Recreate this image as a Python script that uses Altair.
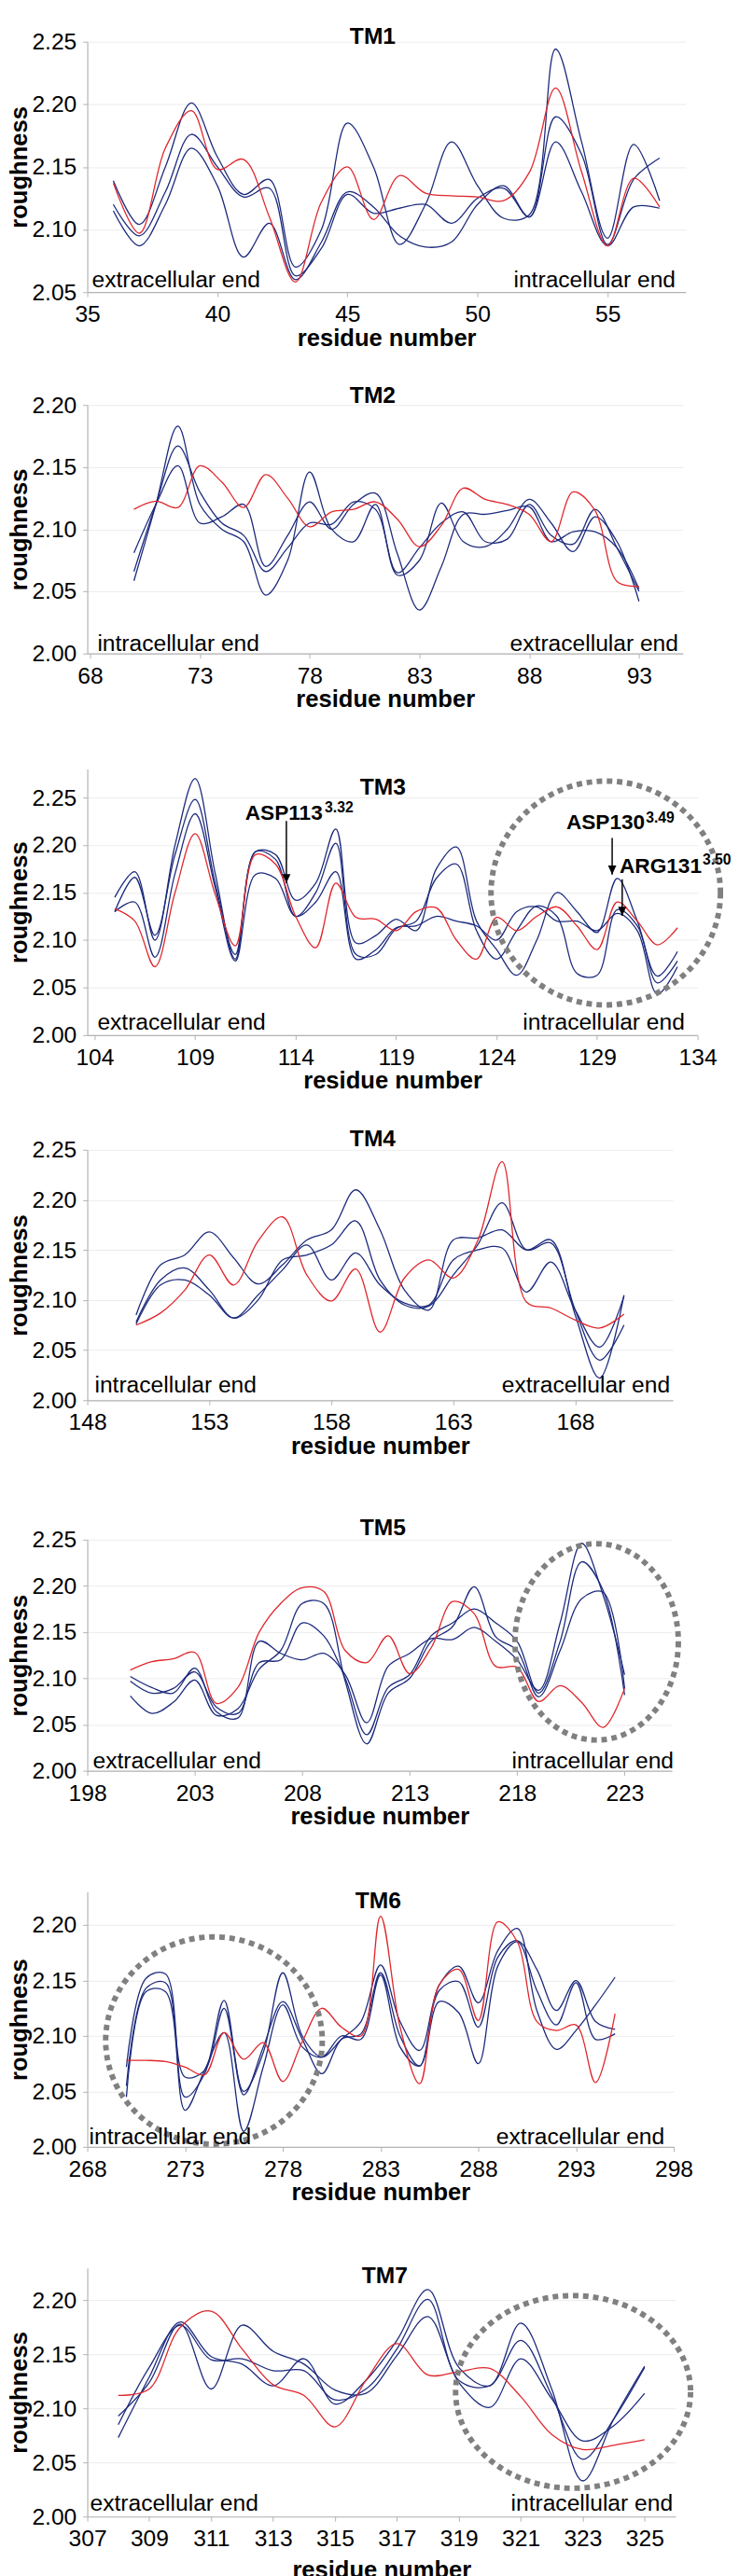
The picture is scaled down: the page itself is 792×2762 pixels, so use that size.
import altair as alt
import pandas as pd

FONT = "Liberation Sans"
RED = "#e0262c"
BLUE = "#1c2a7c"
GRAY = "#808080"

# ---------------- data ----------------
tm1_res = list(range(36, 58))
tm1_red = [2.137, 2.097, 2.165, 2.195, 2.148, 2.156, 2.11, 2.058, 2.122, 2.15, 2.108, 2.143, 2.129, 2.127, 2.126, 2.123, 2.146, 2.213, 2.146, 2.087, 2.141, 2.118]
tm1_b1 = [2.139, 2.104, 2.15, 2.201, 2.158, 2.128, 2.140, 2.070, 2.10, 2.185, 2.15, 2.088, 2.12, 2.17, 2.135, 2.109, 2.112, 2.244, 2.17, 2.093, 2.168, 2.123]
tm1_b2 = [2.12, 2.095, 2.13, 2.176, 2.15, 2.126, 2.133, 2.063, 2.085, 2.128, 2.113, 2.117, 2.12, 2.105, 2.125, 2.133, 2.11, 2.19, 2.16, 2.088, 2.14, 2.157]
tm1_b3 = [2.115, 2.087, 2.12, 2.165, 2.135, 2.078, 2.105, 2.06, 2.09, 2.13, 2.118, 2.095, 2.086, 2.09, 2.12, 2.135, 2.11, 2.17, 2.13, 2.087, 2.118, 2.117]

tm2_res = list(range(70, 94))
tm2_red = [2.116, 2.1225, 2.1175, 2.151, 2.138, 2.1175, 2.144, 2.125, 2.102, 2.114, 2.116, 2.122, 2.108, 2.086, 2.103, 2.133, 2.124, 2.12, 2.112, 2.09, 2.13, 2.115, 2.058, 2.054]
tm2_b1 = [2.0585, 2.12, 2.183, 2.12, 2.10, 2.09, 2.047, 2.075, 2.146, 2.10, 2.09, 2.12, 2.063, 2.075, 2.121, 2.09, 2.086, 2.10, 2.124, 2.105, 2.082, 2.11, 2.09, 2.042]
tm2_b2 = [2.066, 2.12, 2.167, 2.13, 2.105, 2.095, 2.066, 2.085, 2.105, 2.104, 2.122, 2.116, 2.065, 2.085, 2.105, 2.114, 2.09, 2.092, 2.12, 2.095, 2.088, 2.116, 2.085, 2.05]
tm2_b3 = [2.081, 2.12, 2.151, 2.105, 2.11, 2.12, 2.07, 2.095, 2.122, 2.10, 2.12, 2.129, 2.08, 2.035, 2.07, 2.112, 2.112, 2.115, 2.118, 2.09, 2.098, 2.098, 2.085, 2.052]

tm3_res = list(range(105, 134))
tm3_red = [2.133, 2.12, 2.072, 2.15, 2.212, 2.148, 2.094, 2.19, 2.18, 2.125, 2.092, 2.16, 2.124, 2.122, 2.11, 2.13, 2.134, 2.10, 2.08, 2.124, 2.11, 2.125, 2.135, 2.115, 2.09, 2.14, 2.12, 2.095, 2.113]
tm3_b1 = [2.145, 2.172, 2.10, 2.2, 2.27, 2.17, 2.08, 2.193, 2.19, 2.142, 2.16, 2.217, 2.097, 2.105, 2.122, 2.11, 2.175, 2.198, 2.12, 2.09, 2.063, 2.10, 2.15, 2.13, 2.108, 2.165, 2.12, 2.062, 2.088]
tm3_b2 = [2.13, 2.166, 2.105, 2.19, 2.248, 2.16, 2.085, 2.193, 2.185, 2.125, 2.15, 2.202, 2.085, 2.085, 2.112, 2.12, 2.165, 2.18, 2.11, 2.08, 2.11, 2.136, 2.125, 2.065, 2.063, 2.132, 2.115, 2.055, 2.078]
tm3_b3 = [2.13, 2.14, 2.082, 2.17, 2.233, 2.155, 2.078, 2.169, 2.165, 2.125, 2.14, 2.172, 2.08, 2.09, 2.113, 2.115, 2.125, 2.12, 2.115, 2.10, 2.13, 2.135, 2.12, 2.12, 2.11, 2.128, 2.11, 2.043, 2.072]

tm4_res = list(range(150, 171))
tm4_red = [2.075, 2.087, 2.11, 2.145, 2.115, 2.159, 2.183, 2.125, 2.099, 2.131, 2.068, 2.122, 2.14, 2.122, 2.159, 2.238, 2.098, 2.092, 2.08, 2.072, 2.086]
tm4_b1 = [2.085, 2.135, 2.145, 2.168, 2.142, 2.116, 2.135, 2.16, 2.17, 2.21, 2.17, 2.11, 2.09, 2.16, 2.162, 2.17, 2.15, 2.16, 2.085, 2.022, 2.105]
tm4_b2 = [2.078, 2.12, 2.132, 2.11, 2.082, 2.10, 2.14, 2.145, 2.155, 2.179, 2.12, 2.095, 2.094, 2.125, 2.155, 2.197, 2.15, 2.157, 2.09, 2.04, 2.075]
tm4_b3 = [2.076, 2.115, 2.12, 2.105, 2.082, 2.105, 2.13, 2.155, 2.12, 2.147, 2.115, 2.097, 2.095, 2.14, 2.15, 2.152, 2.108, 2.138, 2.09, 2.053, 2.104]

tm5_res = list(range(200, 224))
tm5_red = [2.109, 2.118, 2.121, 2.128, 2.073, 2.09, 2.15, 2.181, 2.198, 2.194, 2.13, 2.117, 2.146, 2.105, 2.133, 2.183, 2.17, 2.113, 2.112, 2.075, 2.092, 2.074, 2.047, 2.089]
tm5_b1 = [2.102, 2.09, 2.084, 2.111, 2.064, 2.057, 2.14, 2.127, 2.12, 2.127, 2.104, 2.052, 2.113, 2.127, 2.143, 2.142, 2.155, 2.14, 2.12, 2.087, 2.16, 2.246, 2.19, 2.104]
tm5_b2 = [2.097, 2.084, 2.089, 2.107, 2.069, 2.062, 2.117, 2.12, 2.16, 2.146, 2.10, 2.039, 2.09, 2.104, 2.146, 2.16, 2.175, 2.16, 2.14, 2.084, 2.14, 2.226, 2.195, 2.082]
tm5_b3 = [2.081, 2.062, 2.074, 2.098, 2.06, 2.067, 2.11, 2.13, 2.181, 2.181, 2.097, 2.029, 2.084, 2.10, 2.14, 2.156, 2.199, 2.145, 2.13, 2.08, 2.13, 2.186, 2.193, 2.089]

tm6_res = list(range(270, 296))
tm6_red = [2.078, 2.078, 2.077, 2.072, 2.065, 2.103, 2.079, 2.094, 2.059, 2.095, 2.125, 2.108, 2.10, 2.208, 2.108, 2.057, 2.146, 2.16, 2.114, 2.203, 2.185, 2.113, 2.105, 2.11, 2.058, 2.12]
tm6_b1 = [2.072, 2.152, 2.156, 2.045, 2.066, 2.132, 2.05, 2.085, 2.157, 2.10, 2.081, 2.097, 2.113, 2.164, 2.113, 2.087, 2.146, 2.163, 2.13, 2.177, 2.197, 2.123, 2.088, 2.105, 2.128, 2.153]
tm6_b2 = [2.055, 2.143, 2.148, 2.063, 2.069, 2.125, 2.047, 2.09, 2.131, 2.097, 2.066, 2.097, 2.102, 2.157, 2.10, 2.073, 2.141, 2.149, 2.108, 2.171, 2.186, 2.16, 2.123, 2.15, 2.113, 2.106]
tm6_b3 = [2.045, 2.14, 2.14, 2.033, 2.069, 2.103, 2.014, 2.072, 2.128, 2.09, 2.081, 2.10, 2.097, 2.155, 2.09, 2.073, 2.131, 2.121, 2.075, 2.163, 2.185, 2.141, 2.11, 2.148, 2.097, 2.102]

tm7_res = list(range(308, 326))
tm7_red = [2.112, 2.118, 2.175, 2.19, 2.155, 2.122, 2.112, 2.083, 2.126, 2.16, 2.131, 2.134, 2.137, 2.111, 2.076, 2.062, 2.066, 2.071]
tm7_b1 = [2.073, 2.129, 2.18, 2.148, 2.141, 2.121, 2.146, 2.104, 2.126, 2.163, 2.21, 2.138, 2.121, 2.179, 2.118, 2.033, 2.09, 2.139]
tm7_b2 = [2.085, 2.138, 2.177, 2.145, 2.146, 2.135, 2.135, 2.108, 2.118, 2.155, 2.201, 2.126, 2.121, 2.163, 2.112, 2.053, 2.09, 2.138]
tm7_b3 = [2.093, 2.124, 2.178, 2.118, 2.177, 2.153, 2.141, 2.117, 2.114, 2.149, 2.185, 2.124, 2.101, 2.146, 2.109, 2.07, 2.084, 2.114]

# annotations for TM3 (data coordinates)
ann_names = ["ASP113", "ASP130", "ARG131"]
ann_sup = ["3.32", "3.49", "3.50"]
ann_text_x = [111.49, 127.47, 130.12]
ann_text_y = [2.2268, 2.2172, 2.1709]
ann_sup_x = [115.45, 131.43, 134.25]
ann_sup_y = [2.2345, 2.2240, 2.1795]
arrow_x = [113.54, 129.75, 130.25]
arrow_top = [2.2255, 2.2075, 2.1640]
arrow_tip = [2.1600, 2.1690, 2.1255]

# dotted highlight circles: panel -> (center residue, center roughness, rx px, ry px)
circles = {
    "TM3": (129.43, 2.1496, 125, 122),
    "TM5": (221.70, 2.1394, 89, 107),
    "TM6": (274.48, 2.0959, 118, 113),
    "TM7": (322.69, 2.1153, 128, 105),
}


def ellipse_path(k):
    c = 0.5523
    return (f"M 1 0 C 1 {c*k:.4f} {c:.4f} {k:.4f} 0 {k:.4f} "
            f"C {-c:.4f} {k:.4f} -1 {c*k:.4f} -1 0 "
            f"C -1 {-c*k:.4f} {-c:.4f} {-k:.4f} 0 {-k:.4f} "
            f"C {c:.4f} {-k:.4f} 1 {-c*k:.4f} 1 0 Z")


panels = [
    dict(name="TM1", res=tm1_res, red=tm1_red, blues=[tm1_b1, tm1_b2, tm1_b3],
         xdom=[35, 58], xticks=[35, 40, 45, 50, 55], ydom=[2.05, 2.25],
         yticks=[2.05, 2.10, 2.15, 2.20, 2.25], w=652, h=273,
         lab=(311, -6), left="extracellular end", right="intracellular end",
         lx=5, rx=641, bd=5, spacer=None, xtp=0),
    dict(name="TM2", res=tm2_res, red=tm2_red, blues=[tm2_b1, tm2_b2, tm2_b3],
         xdom=[67.875, 95], xticks=[68, 73, 78, 83, 88, 93], ydom=[2.0, 2.2],
         yticks=[2.0, 2.05, 2.10, 2.15, 2.20], w=649, h=271,
         lab=(311, -10), left="intracellular end", right="extracellular end",
         lx=11, rx=644, bd=3, spacer=37, xtp=0),
    dict(name="TM3", res=tm3_res, red=tm3_red, blues=[tm3_b1, tm3_b2, tm3_b3],
         xdom=[103.635, 134], xticks=[104, 109, 114, 119, 124, 129, 134], ydom=[2.0, 2.28],
         yticks=[2.0, 2.05, 2.10, 2.15, 2.20, 2.25], w=665, h=290,
         lab=(322, 20), left="extracellular end", right="intracellular end",
         lx=11, rx=651, bd=6, spacer=62, xtp=0),
    dict(name="TM4", res=tm4_res, red=tm4_red, blues=[tm4_b1, tm4_b2, tm4_b3],
         xdom=[148, 172], xticks=[148, 153, 158, 163, 168], ydom=[2.0, 2.25],
         yticks=[2.0, 2.05, 2.10, 2.15, 2.20, 2.25], w=638, h=273,
         lab=(311, -12), left="intracellular end", right="extracellular end",
         lx=8, rx=635, bd=8, spacer=37, xtp=0),
    dict(name="TM5", res=tm5_res, red=tm5_red, blues=[tm5_b1, tm5_b2, tm5_b3],
         xdom=[198, 225.2], xticks=[198, 203, 208, 213, 218, 223], ydom=[2.0, 2.25],
         yticks=[2.0, 2.05, 2.10, 2.15, 2.20, 2.25], w=637, h=252,
         lab=(322, -13), left="extracellular end", right="intracellular end",
         lx=6, rx=639, bd=3, spacer=63, xtp=0),
    dict(name="TM6", res=tm6_res, red=tm6_red, blues=[tm6_b1, tm6_b2, tm6_b3],
         xdom=[268, 298], xticks=[268, 273, 278, 283, 288, 293, 298], ydom=[2.0, 2.23],
         yticks=[2.0, 2.05, 2.10, 2.15, 2.20], w=639, h=278,
         lab=(317, 10), left="intracellular end", right="extracellular end",
         lx=2, rx=629, bd=3, spacer=66, xtp=0),
    dict(name="TM7", res=tm7_res, red=tm7_red, blues=[tm7_b1, tm7_b2, tm7_b3],
         xdom=[307, 326], xticks=[307, 309, 311, 313, 315, 317, 319, 321, 323, 325], ydom=[2.0, 2.23],
         yticks=[2.0, 2.05, 2.10, 2.15, 2.20], w=641, h=271,
         lab=(324, 9), left="extracellular end", right="intracellular end",
         lx=3, rx=638, bd=6, spacer=65, xtp=8),
]


def build(p):
    xs = alt.Scale(domain=p["xdom"], nice=False, zero=False)
    ys = alt.Scale(domain=p["ydom"], nice=False, zero=False)
    xax = alt.Axis(values=p["xticks"], format="d", title="residue number", grid=False,
                   labelFlush=False, labelOverlap=False, titlePadding=p["xtp"])
    yax = alt.Axis(values=p["yticks"], format=".2f", title="roughness", grid=True,
                   labelOverlap=False)
    X = lambda: alt.X("residue:Q", scale=xs, axis=xax)
    Y = lambda: alt.Y("roughness:Q", scale=ys, axis=yax)

    blue_rows = []
    for i, vals in enumerate(p["blues"]):
        for r, v in zip(p["res"], vals):
            blue_rows.append({"residue": r, "roughness": v, "series": f"b{i}"})
    red_df = pd.DataFrame({"residue": p["res"], "roughness": p["red"]})

    layers = []
    layers.append(alt.Chart(pd.DataFrame(blue_rows)).mark_line(
        color=BLUE, strokeWidth=1.3, interpolate="catmull-rom").encode(
        x=X(), y=Y(), detail="series:N"))
    layers.append(alt.Chart(red_df).mark_line(
        color=RED, strokeWidth=1.3, interpolate="catmull-rom").encode(x=X(), y=Y()))

    if p["name"] in circles:
        cx, cy, rx, ry = circles[p["name"]]
        cdf = pd.DataFrame({"residue": [cx], "roughness": [cy]})
        layers.append(alt.Chart(cdf).mark_point(
            shape=ellipse_path(ry / rx), size=(2 * rx) ** 2, filled=False,
            stroke=GRAY, strokeWidth=6, strokeDash=[6, 5], opacity=1).encode(x=X(), y=Y()))

    if p["name"] == "TM3":
        adf = pd.DataFrame({"residue": arrow_x, "roughness": arrow_top, "roughness2": arrow_tip})
        layers.append(alt.Chart(adf).mark_rule(color="black", strokeWidth=1.5).encode(
            x=X(), y=Y(), y2=alt.Y2("roughness2:Q")))
        hdf = pd.DataFrame({"residue": arrow_x, "roughness": arrow_tip})
        layers.append(alt.Chart(hdf).mark_point(
            shape="M -1 -2.2 L 1 -2.2 L 0 0 Z", size=81, filled=True, color="black",
            opacity=1).encode(x=X(), y=Y()))
        tdf = pd.DataFrame({"residue": ann_text_x, "roughness": ann_text_y, "t": ann_names})
        layers.append(alt.Chart(tdf).mark_text(
            font=FONT, fontSize=23, fontWeight="bold", align="left", baseline="alphabetic",
            color="black").encode(x=X(), y=Y(), text="t:N"))
        sdf = pd.DataFrame({"residue": ann_sup_x, "roughness": ann_sup_y, "t": ann_sup})
        layers.append(alt.Chart(sdf).mark_text(
            font=FONT, fontSize=16, fontWeight="bold", align="left", baseline="alphabetic",
            color="black").encode(x=X(), y=Y(), text="t:N"))

    # panel label
    layers.append(alt.Chart(pd.DataFrame({"t": [p["name"]]})).mark_text(
        font=FONT, fontSize=25, fontWeight="bold", align="center", baseline="middle",
        color="black").encode(x=alt.value(p["lab"][0]), y=alt.value(p["lab"][1]), text="t:N"))
    # end labels
    layers.append(alt.Chart(pd.DataFrame({"t": [p["left"]]})).mark_text(
        font=FONT, fontSize=25, align="left", baseline="alphabetic", color="black").encode(
        x=alt.value(p["lx"]), y=alt.value(p["h"] - p["bd"]), text="t:N"))
    layers.append(alt.Chart(pd.DataFrame({"t": [p["right"]]})).mark_text(
        font=FONT, fontSize=25, align="right", baseline="alphabetic", color="black").encode(
        x=alt.value(p["rx"]), y=alt.value(p["h"] - p["bd"]), text="t:N"))

    ch = alt.layer(*layers).properties(width=p["w"], height=p["h"])
    if p["spacer"] is not None:
        ch = ch.properties(title=alt.TitleParams(text=" ", fontSize=1, offset=p["spacer"]))
    return ch


chart = alt.vconcat(*[build(p) for p in panels], spacing=0).properties(
    padding={"left": 0, "top": -4, "right": 0, "bottom": 0},
    background="white"
).configure_axis(
    labelFont=FONT, titleFont=FONT, labelFontSize=25, titleFontSize=26,
    labelColor="black", titleColor="black", titleFontWeight="bold",
    domainColor="#b3b3b3", tickColor="#b3b3b3", gridColor="#ececec",
    tickSize=5, domainWidth=1.2
).configure_axisX(
    labelPadding=7
).configure_axisY(
    labelPadding=7, titlePadding=0
).configure_view(
    strokeWidth=0
)

chart.save("out.html", embed_options={"renderer": "svg", "actions": False})
